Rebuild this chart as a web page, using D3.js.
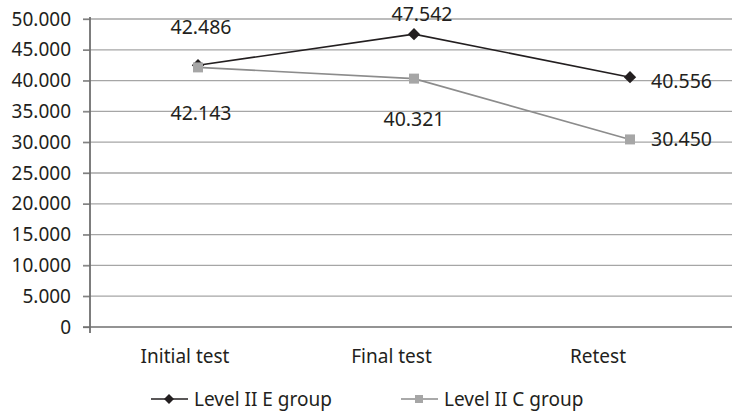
<!DOCTYPE html>
<html><head><meta charset="utf-8">
<script src="https://cdn.jsdelivr.net/npm/d3@7"></script>
<style>body{margin:0;background:#fff}text{font-family:"Noto Sans","Open Sans",sans-serif;fill:#231f20}</style>
</head><body><svg id="c" width="732" height="413"></svg>
<script>
const categories = ["Initial test","Final test","Retest"];
const seriesNames = ["Level II E group","Level II C group"];
const eValues = [42486, 47542, 40556];
const cValues = [42143, 40321, 30450];
const yTicks = [0,5000,10000,15000,20000,25000,30000,35000,40000,45000,50000];
// label layout: [dx, dy, anchor]
const eLabelLayout = [[3,-31,"middle"],[8,-13,"middle"],[21,11,"start"]];
const cLabelLayout = [[3,53,"middle"],[0,47,"middle"],[21,7,"start"]];

(function(){
const svg = d3.select("#c");
const mLeft = 90, mRight = 738, mTop = 19, mBottom = 327;
const x = d3.scaleBand().domain(categories).range([mLeft, mRight]);
const xLab = d3.scalePoint().domain(categories).range([185, 598]);
const y = d3.scaleLinear().domain([0,50000]).range([mBottom, mTop]);
const loc = d3.formatLocale({decimal:",", thousands:".", grouping:[3], currency:["",""]});
const fmt = v => v === 0 ? "0" : loc.format(",.0f")(v);
const fmtLab = v => loc.format(",.0f")(v);

svg.append("g").selectAll("line").data(yTicks.filter(d=>d>0)).join("line")
  .attr("x1", mLeft-7).attr("x2", 732).attr("y1", d=>y(d)).attr("y2", d=>y(d))
  .attr("stroke", "#a6a6a6").attr("stroke-width", 1.3);
const ya = svg.append("g").attr("transform", `translate(${mLeft},0)`)
  .call(d3.axisLeft(y).tickValues(yTicks).tickFormat(fmt).tickSize(7).tickPadding(12));
ya.select(".domain").remove();
ya.selectAll(".tick line").attr("stroke", "#7f7f7f").attr("stroke-width", 1.3);
ya.selectAll(".tick text").style("font-size","19px").attr("fill","#231f20");
svg.append("line").attr("x1", mLeft-7).attr("x2", 732).attr("y1", mBottom).attr("y2", mBottom)
  .attr("stroke", "#6f6f6f").attr("stroke-width", 1.5);
svg.append("line").attr("x1", mLeft).attr("x2", mLeft).attr("y1", mTop-2).attr("y2", mBottom+6)
  .attr("stroke", "#6f6f6f").attr("stroke-width", 1.8);
svg.append("g").selectAll("text").data(categories).join("text")
  .attr("x", d=>xLab(d)).attr("y", 363).attr("text-anchor","middle")
  .style("font-size","19px").text(d=>d);

const cx = d => x(d)+x.bandwidth()/2;
const line = d3.line().x((d,i)=>cx(categories[i])).y(d=>y(d));

function drawSeries(vals, color, lineColor, shape, size, rot, lay){
  svg.append("path").datum(vals).attr("d", line).attr("fill","none")
    .attr("stroke", lineColor).attr("stroke-width", 1.6);
  svg.append("g").selectAll("path").data(vals).join("path")
    .attr("transform",(d,i)=>`translate(${cx(categories[i])},${y(d)}) rotate(${rot})`)
    .attr("d", d3.symbol().type(shape).size(size)).attr("fill", color);
  svg.append("g").selectAll("text").data(vals).join("text")
    .attr("x",(d,i)=> cx(categories[i])+lay[i][0])
    .attr("y",(d,i)=> y(d)+lay[i][1])
    .attr("text-anchor",(d,i)=> lay[i][2])
    .style("font-size","19.5px").text(d=>fmtLab(d));
}
drawSeries(eValues, "#231f20", "#231f20", d3.symbolSquare, 76, 45, eLabelLayout);
drawSeries(cValues, "#a6a6a6", "#8c8c8c", d3.symbolSquare, 100, 0, cLabelLayout);

const leg = [{name:seriesNames[0], x:151, color:"#231f20", lc:"#231f20", size:50, rot:45},
             {name:seriesNames[1], x:401, color:"#a6a6a6", lc:"#8c8c8c", size:64, rot:0}];
const lg = svg.append("g").selectAll("g").data(leg).join("g").attr("transform", d=>`translate(${d.x},399)`);
lg.append("line").attr("x1",0).attr("x2",37).attr("stroke",d=>d.lc).attr("stroke-width",1.6);
lg.append("path").attr("transform",d=>`translate(18,0) rotate(${d.rot})`).attr("d",d=>d3.symbol().type(d3.symbolSquare).size(d.size)()).attr("fill",d=>d.color);
lg.append("text").attr("x",43).attr("y",7).style("font-size","19px").text(d=>d.name);
})();
</script></body></html>
